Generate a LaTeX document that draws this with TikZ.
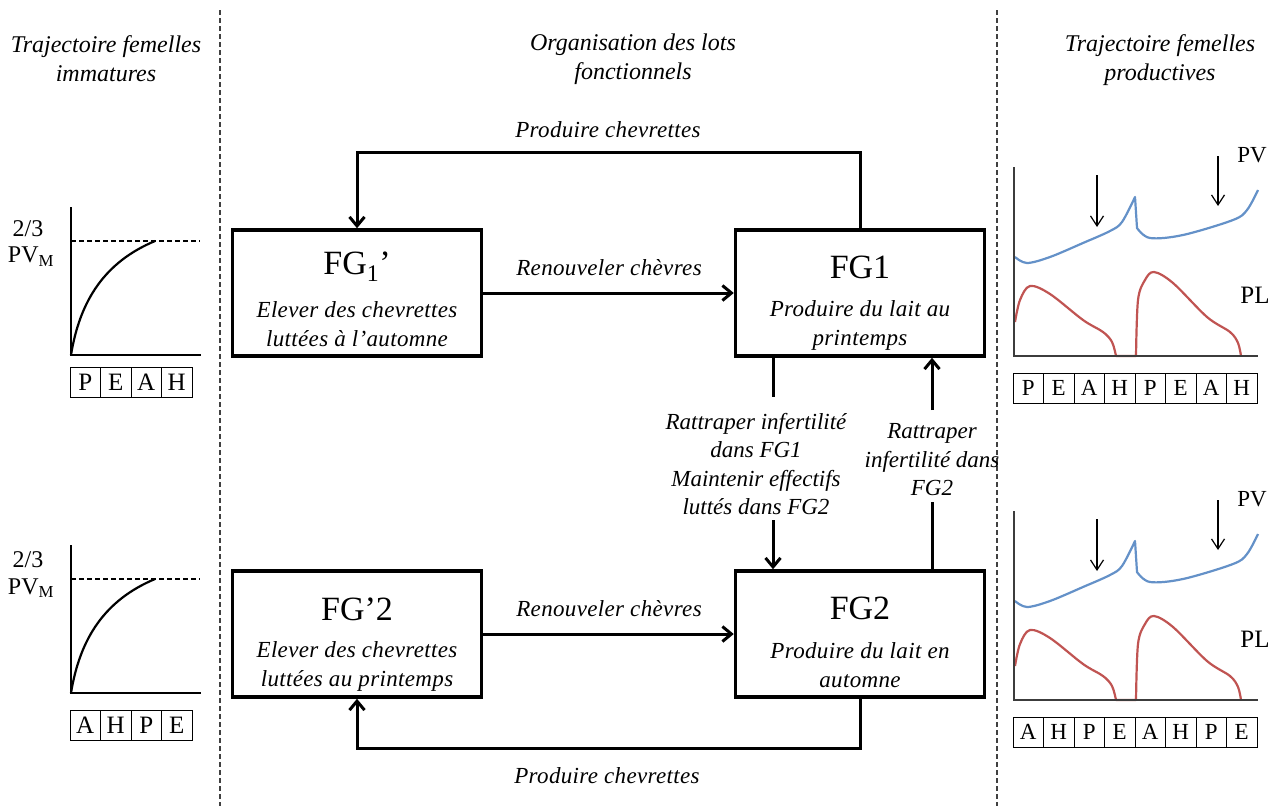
\documentclass[tikz,border=0pt]{standalone}
\usepackage{fontspec}
\setmainfont{Liberation Serif}
\usetikzlibrary{arrows.meta,calc}
\definecolor{pvblue}{RGB}{100,145,200}
\definecolor{plred}{RGB}{192,84,82}
\definecolor{axisgray}{RGB}{60,60,60}
\begin{document}
\begin{tikzpicture}[x=1pt,y=-1pt,
  titlef/.style={font=\fontsize{24}{29}\selectfont\itshape, align=center, inner sep=0pt},
  ital/.style={font=\fontsize{23}{29}\selectfont\itshape\addfontfeatures{LetterSpace=1.5}, align=center, inner sep=0pt},
  midlab/.style={font=\fontsize{23}{28.5}\selectfont\itshape, align=center, inner sep=0pt},
  boxtitle/.style={font=\fontsize{34}{40}\selectfont, inner sep=0pt},
  lot/.style={draw, line width=3.5pt, minimum width=249pt, minimum height=126pt, inner sep=0pt},
  conn/.style={line width=3pt},
  arr/.style={conn, -{Straight Barb[length=9pt,width=15pt]}},
  sep/.style={line width=1.3pt, dash pattern=on 5pt off 3pt, black!75},
  axis/.style={line width=1.5pt, axisgray},
  cellL/.style={draw, line width=1pt, minimum width=30.5pt, minimum height=30pt, inner sep=0pt, font=\fontsize{25}{25}\selectfont},
  cellR/.style={draw, line width=1pt, minimum width=30.5pt, minimum height=30pt, inner sep=0pt, font=\fontsize{23}{23}\selectfont},
  lbl/.style={inner sep=0pt, font=\fontsize{24}{24}\selectfont},
  thinarr/.style={line width=1.2pt, -{Straight Barb[length=10pt,width=13pt]}},
  pv/.style={line width=2.2pt, pvblue, line join=round},
  pl/.style={line width=2.2pt, plred, line join=round}]
\useasboundingbox (0,0) rectangle (1282,806);

% separators
\draw[sep] (220,10) -- (220,806);
\draw[sep] (997,10) -- (997,806);

% titles
\node[titlef] (t1) at (106,59) {Trajectoire femelles\\immatures};
\node[titlef] (t2) at (633,59) {Organisation des lots\\fonctionnels};
\node[titlef] (t3) at (1160,60) {Trajectoire femelles\\productives};

% boxes
\node[lot] (fg1p) at (357,293) {};
\node[boxtitle] (fg1pt) at (357,267) {FG\textsubscript{1}’};
\node[ital] (fg1pd) at (357,324) {Elever des chevrettes\\luttées à l’automne};

\node[lot] (fg1) at (860,293) {};
\node[boxtitle] (fg1t) at (860,267) {FG1};
\node[ital] (fg1d) at (860,325) {Produire du lait au\\printemps};

\node[lot] (fg2p) at (357,634) {};
\node[boxtitle] (fg2pt) at (357,609) {FG’2};
\node[ital] (fg2pd) at (357,666) {Elever des chevrettes\\luttées au printemps};

\node[lot] (fg2) at (860,634) {};
\node[boxtitle] (fg2t) at (860,608) {FG2};
\node[ital] (fg2d) at (860,665) {Produire du lait en\\automne};

% horizontal connectors
\draw[arr] (fg1p.east) -- (fg1.west);
\node[ital] (ren1) at (609,268) {Renouveler chèvres};
\draw[arr] (fg2p.east) -- (fg2.west);
\node[ital] (ren2) at (609,609) {Renouveler chèvres};

% loops
\draw[arr] (fg1.north) -- ++(0,-76) -| (fg1p.north);
\node[ital] (prod1) at (608,130) {Produire chevrettes};
\draw[arr] (fg2.south) -- ++(0,50) -| (fg2p.south);
\node[ital] (prod2) at (607,776) {Produire chevrettes};

% vertical connectors
\coordinate (ma) at (773,397);
\coordinate (mb) at (773,520);
\draw[conn] (fg1.south -| ma) -- (ma);
\draw[arr] (mb) -- (fg2.north -| mb);
\node[midlab] (midl) at (756,464) {Rattraper infertilité\\dans FG1\\Maintenir effectifs\\luttés dans FG2};

\coordinate (ra) at (932,502);
\coordinate (rb) at (932,410);
\draw[conn] (fg2.north -| ra) -- (ra);
\draw[arr] (rb) -- (fg1.south -| rb);
\node[midlab] (midr) at (932,460) {Rattraper\\infertilité dans\\FG2};

% left charts
\foreach \dy/\ly/\ty/\lets/\nm in {0/0/382/{P,E,A,H}/a, 338/331/725/{A,H,P,E}/b}{
  \begin{scope}[shift={(0,\dy)}]
    \draw[line width=1.5pt] (71,207) -- (71,355) -- (201,355);
    \draw[line width=1.2pt, dash pattern=on 5pt off 3pt] (71,241) -- (200,241);
    \draw[line width=2.2pt] (71,355) .. controls (80,300) and (105,262) .. (155,241);
  \end{scope}
  \node[lbl] (frac\nm) at (28,{229+\ly}) {2/3};
  \node[lbl] (pvm\nm) at (31,{257+\ly}) {PV\textsubscript{M}};
  \foreach \l [count=\i] in \lets
    \node[cellL] (c\nm\i) at ({70+30.5*(\i-0.5)},\ty) {\l};
}

% right charts
\foreach \dy/\lets/\nm in {0/{P,E,A,H,P,E,A,H}/c, 344/{A,H,P,E,A,H,P,E}/d}{
  \begin{scope}[shift={(0,\dy)}]
    \draw[pv] plot[smooth, tension=0.55] coordinates {(1015,257) (1027,263) (1050,257) (1083,243) (1110,231) (1122,222) (1135,197)}
      -- (1137,228) -- plot[smooth, tension=0.55] coordinates {(1137,228) (1150,238) (1183,235) (1233,220) (1247,210) (1258,190)};
    \draw[pl] plot[smooth, tension=0.55] coordinates {(1015,322) (1020,300) (1030,286) (1050,294) (1083,320) (1103,332) (1112,342) (1116,356)}
      -- (1136,356) -- plot[smooth, tension=0.55] coordinates {(1136,356) (1138,300) (1145,280) (1154,272) (1173,283) (1207,317) (1230,332) (1238,343) (1241,356)};
    \draw[axis] (1014,167) -- (1014,356) -- (1258,356);
    \draw[thinarr] (1097,175) -- (1097,227);
    \draw[thinarr] (1218,156) -- (1218,206);
  \end{scope}
  \node[inner sep=0pt, font=\fontsize{23}{23}\selectfont] (pv\nm) at (1252,{155+\dy}) {PV};
  \node[inner sep=0pt, font=\fontsize{25}{25}\selectfont] (pl\nm) at (1255,{295+\dy}) {PL};
  \foreach \l [count=\i] in \lets
    \node[cellR] (c\nm\i) at ({1013+30.5*(\i-0.5)},{388+\dy}) {\l};
}
\end{tikzpicture}
\end{document}
